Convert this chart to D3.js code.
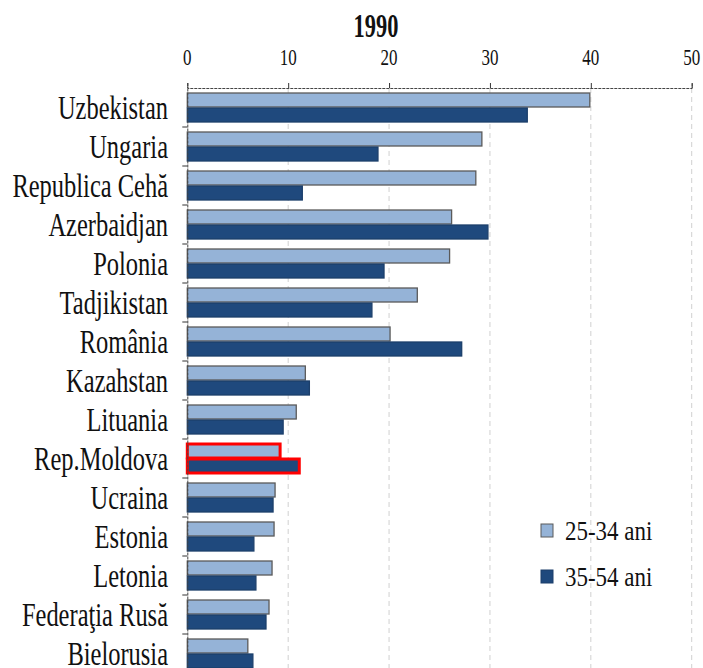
<!DOCTYPE html>
<html><head><meta charset="utf-8">
<script src="https://cdn.jsdelivr.net/npm/d3@7"></script>
<style>body{margin:0;background:#fff}svg{display:block}
text{font-family:"Liberation Serif","Times New Roman","DejaVu Serif",serif}</style>
</head><body>
<svg id="c" width="703" height="668"></svg>
<script>
const title = "1990";
const categories = ["Uzbekistan","Ungaria","Republica Cehă","Azerbaidjan","Polonia","Tadjikistan","România","Kazahstan","Lituania","Rep.Moldova","Ucraina","Estonia","Letonia","Federaţia Rusă","Bielorusia"];
const seriesNames = ["25-34 ani","35-54 ani"];
const values2534 = [39.9,29.2,28.6,26.2,26.0,22.8,20.1,11.7,10.8,9.2,8.7,8.6,8.4,8.1,6.0];
const values3554 = [33.7,18.9,11.4,29.8,19.5,18.3,27.2,12.1,9.5,11.1,8.5,6.6,6.8,7.8,6.5];
const xTicks = [0,10,20,30,40,50];
const highlight = "Rep.Moldova";

const colors = ["#95b3d7","#1f497d"];
const svg = d3.select("#c");
const x = d3.scaleLinear().domain([0,50]).range([187.3,691.7]);
const y = d3.scaleBand().domain(categories).range([88,673]);
const sub = d3.scaleBand().domain(seriesNames).range([5,35]);
const data = categories.map((c,i)=>({c, v:[values2534[i], values3554[i]]}));

// gridlines
svg.append("g").selectAll("line").data(xTicks.slice(1)).join("line")
  .attr("x1",d=>x(d)).attr("x2",d=>x(d)).attr("y1",88).attr("y2",668)
  .attr("stroke","#d0d0d0").attr("stroke-dasharray","5,4").attr("stroke-width",1);

// bars
const g = svg.append("g").selectAll("g").data(data).join("g")
  .attr("transform",d=>`translate(0,${y(d.c)})`);
g.selectAll("rect").data(d=>d.v.map((v,k)=>({v,k,c:d.c}))).join("rect")
  .attr("x",x(0)).attr("y",d=>sub(seriesNames[d.k]))
  .attr("width",d=>x(d.v)-x(0)).attr("height",sub.bandwidth()-1)
  .attr("fill",d=>colors[d.k])
  .attr("stroke",d=>d.c===highlight?"#ff0000":(d.k===0?"#5a5a5a":"#1c3f6b"))
  .attr("stroke-width",d=>d.c===highlight?3:1.3);

// top axis
const xa = svg.append("g").attr("transform","translate(0,88)")
  .call(d3.axisTop(x).tickValues(xTicks).tickSize(5).tickFormat(""));
xa.select(".domain").attr("stroke","#444").attr("stroke-dasharray","3,1");
xa.selectAll(".tick line").attr("stroke","#333");
svg.append("g").selectAll("text").data(xTicks).join("text")
  .attr("transform",d=>`translate(${x(d)},65) scale(0.74,1)`)
  .attr("text-anchor","middle")
  .attr("font-size",23).attr("fill","#111").text(d=>d);

// left axis
const ya = svg.append("g").attr("transform",`translate(${x(0)},0)`)
  .call(d3.axisLeft(y).tickSize(0).tickFormat(""));
ya.select(".domain").attr("stroke","#444").attr("stroke-dasharray","3,1");
svg.append("g").selectAll("line").data(categories.slice(1)).join("line")
  .attr("x1",x(0)-5).attr("x2",x(0)).attr("y1",d=>y(d)).attr("y2",d=>y(d))
  .attr("stroke","#333");
svg.append("g").selectAll("text").data(categories).join("text")
  .attr("transform",d=>`translate(168,${y(d)+y.bandwidth()/2+11}) scale(0.72,1)`)
  .attr("text-anchor","end")
  .attr("font-size",34).attr("fill","#111").text(d=>d);

// title
svg.append("text").attr("transform","translate(376,37) scale(0.66,1)")
  .attr("text-anchor","middle")
  .attr("font-weight","bold").attr("font-size",34).attr("fill","#111").text(title);

// legend
const lg = svg.append("g").selectAll("g").data(seriesNames).join("g")
  .attr("transform",(d,i)=>`translate(541,${524+i*46})`);
lg.append("rect").attr("width",12).attr("height",13)
  .attr("fill",(d,i)=>colors[i]).attr("stroke",(d,i)=>i===0?"#5a5a5a":"#1c3f6b").attr("stroke-width",1);
lg.append("text").attr("transform","translate(24,16) scale(0.82,1)")
  .attr("font-size",28).attr("fill","#111").text(d=>d);
</script>
</body></html>
